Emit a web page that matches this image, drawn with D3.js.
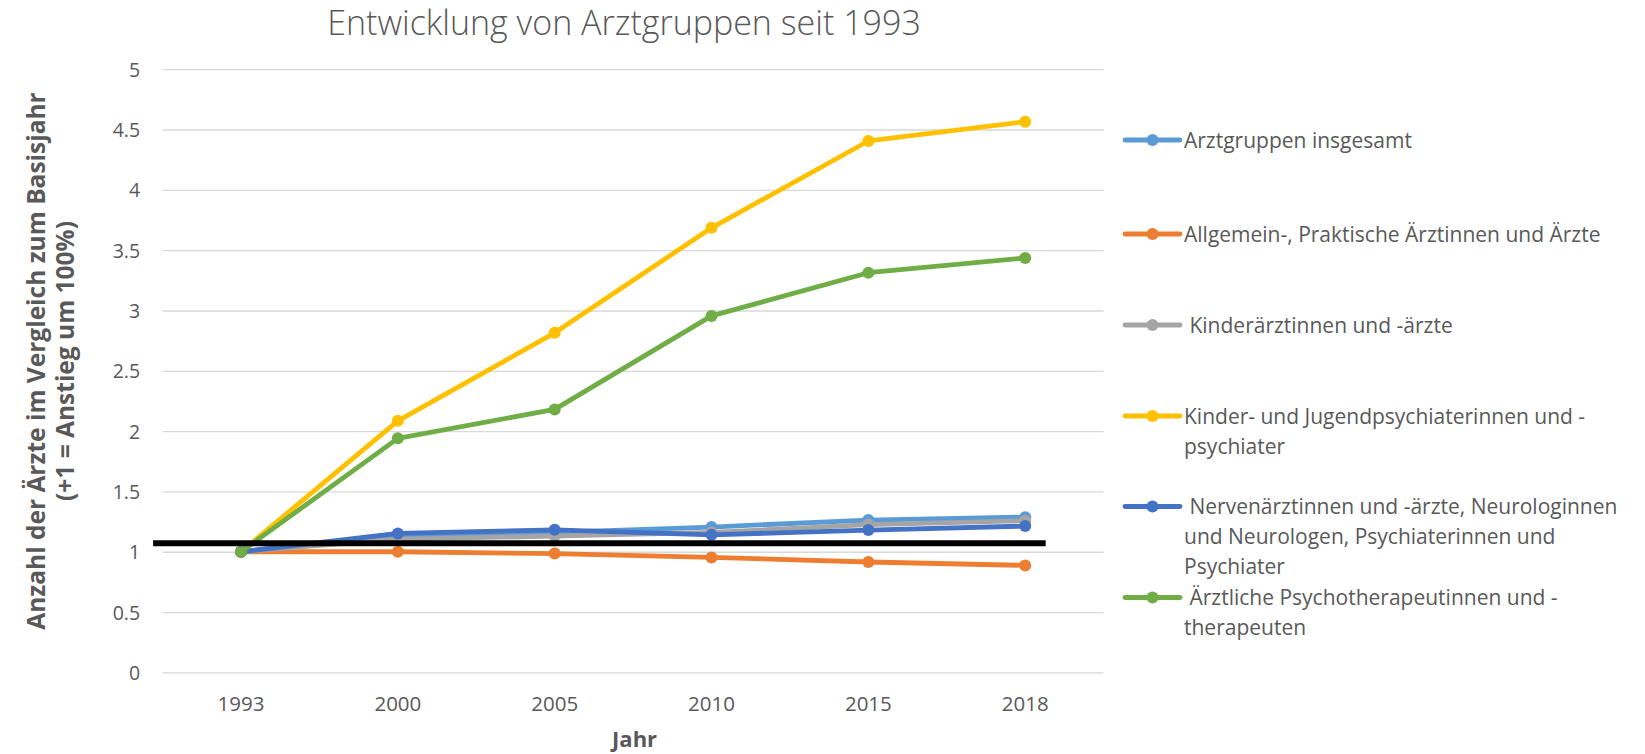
<!DOCTYPE html>
<html><head><meta charset="utf-8">
<script src="https://cdn.jsdelivr.net/npm/d3@7"></script>
<style>
html,body{margin:0;padding:0;background:#fff;}
svg text{font-family:"Open Sans",sans-serif;}
</style></head>
<body>
<svg id="chart" width="1645" height="754"></svg>
<script>
const years = ["1993","2000","2005","2010","2015","2018"];
const seriesNames = [
  "Arztgruppen insgesamt",
  "Allgemein-, Praktische Ärztinnen und Ärzte",
  " Kinderärztinnen und -ärzte",
  "Kinder- und Jugendpsychiaterinnen und -|psychiater",
  " Nervenärztinnen und -ärzte, Neurologinnen|und Neurologen, Psychiaterinnen und|Psychiater",
  " Ärztliche Psychotherapeutinnen und -|therapeuten"
];
const insgesamt = [1, 1.13, 1.16, 1.205, 1.263, 1.287];
const allgemein = [1, 1.0, 0.985, 0.953, 0.915, 0.887];
const kinderaerzte = [1, 1.105, 1.13, 1.16, 1.225, 1.258];
const kjPsychiater = [1, 2.085, 2.815, 3.685, 4.405, 4.565];
const nervenaerzte = [1, 1.152, 1.182, 1.14, 1.18, 1.213];
const psychotherapeuten = [1, 1.94, 2.18, 2.955, 3.313, 3.435];
const seriesValues = [insgesamt, allgemein, kinderaerzte, kjPsychiater, nervenaerzte, psychotherapeuten];
const colors = ["#5B9BD5","#ED7D31","#A5A5A5","#FFC000","#4472C4","#70AD47"];
const yTicks = [0,0.5,1,1.5,2,2.5,3,3.5,4,4.5,5];
const yTickLabels = ["0","0.5","1","1.5","2","2.5","3","3.5","4","4.5","5"];
const referenceValue = 1.07;
const title = "Entwicklung von Arztgruppen seit 1993";
const xTitle = "Jahr";
const yTitle = ["Anzahl der Ärzte im Vergleich zum Basisjahr","(+1 = Anstieg um 100%)"];

const svg = d3.select("#chart");
const pLeft = 162.6, pRight = 1103.6, pTop = 69.2, pBottom = 672.4;
const x = d3.scaleBand().domain(years).range([pLeft, pRight]);
const y = d3.scaleLinear().domain([0,5]).range([pBottom, pTop]);
const cx = d => x(d) + x.bandwidth()/2;
const textColor = "#595959";

// gridlines + y labels
const yAxis = d3.axisLeft(y).tickValues(yTicks).tickSize(-(pRight-pLeft)).tickPadding(22.5)
  .tickFormat((d,i)=>yTickLabels[i]);
const gy = svg.append("g").attr("transform",`translate(${pLeft},0)`).call(yAxis);
gy.select(".domain").remove();
gy.selectAll(".tick line").attr("stroke","#D9D9D9").attr("stroke-width",1.3);
gy.selectAll(".tick text").attr("fill",textColor).style("font-size","19.5px").attr("dy","0.36em");

const xAxis = d3.axisBottom(x).tickSize(0).tickPadding(22);
const gx = svg.append("g").attr("transform",`translate(0,${pBottom})`).call(xAxis);
gx.select(".domain").remove();
gx.selectAll(".tick text").attr("fill",textColor).style("font-size","20.5px")
  .attr("y", 710.7 - pBottom).attr("dy", 0);

// series
const line = d3.line().x((d,i)=>cx(years[i])).y(d=>y(d));
seriesValues.forEach((vals,si)=>{
  svg.append("path").datum(vals).attr("d",line).attr("fill","none")
    .attr("stroke",colors[si]).attr("stroke-width",4.8).attr("stroke-linejoin","round").attr("stroke-linecap","round");
  svg.selectAll(null).data(vals).enter().append("circle")
    .attr("cx",(d,i)=>cx(years[i])).attr("cy",d=>y(d)).attr("r",6).attr("fill",colors[si]);
});

// reference line
svg.append("line").attr("x1",pLeft-9.5).attr("x2",x(years[years.length-1])+x.bandwidth()/2+20.5)
  .attr("y1",y(referenceValue)).attr("y2",y(referenceValue)).attr("stroke","#000").attr("stroke-width",6);

// title
svg.append("text").attr("x",624).attr("y",35).attr("text-anchor","middle")
  .attr("fill",textColor).style("font-size","34px").style("font-weight","300").text(title);
// x title
svg.append("text").attr("x",(pLeft+pRight)/2+1.5).attr("y",747).attr("text-anchor","middle")
  .attr("fill",textColor).style("font-size","22px").style("font-weight","bold").text(xTitle);
// y title
const yt = svg.append("text").attr("transform",`translate(36,361) rotate(-90)`)
  .attr("text-anchor","middle").attr("fill",textColor).style("font-size","24.5px").style("font-weight","bold");
yTitle.forEach((t,i)=>yt.append("tspan").attr("x",0).attr("dy",i===0?"0.36em":29.4).text(t));

// legend
const legendY = [140, 234, 325, 416, 506.5, 597.5];
const lg = svg.append("g");
seriesNames.forEach((name,i)=>{
  const g = lg.append("g").attr("transform",`translate(1125,${legendY[i]})`);
  g.append("line").attr("x1",0).attr("x2",55).attr("y1",0).attr("y2",0)
    .attr("stroke",colors[i]).attr("stroke-width",4.8).attr("stroke-linecap","round");
  g.append("circle").attr("cx",27.5).attr("cy",0).attr("r",6).attr("fill",colors[i]);
  const t = g.append("text").attr("x",59).attr("y",0).attr("fill",textColor)
    .style("font-size","21px").attr("xml:space","preserve").style("white-space","pre");
  name.split("|").forEach((ln,j)=>t.append("tspan").attr("x",59).attr("y",j*30).attr("dy","0.36em").text(ln));
});
</script>
</body></html>
